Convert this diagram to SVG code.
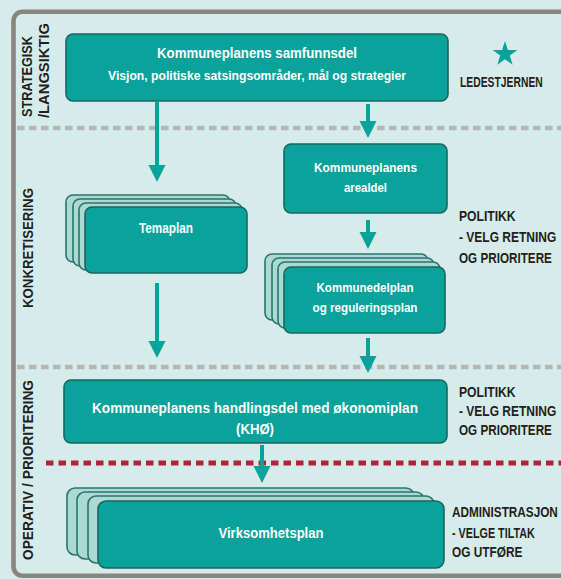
<svg xmlns="http://www.w3.org/2000/svg" width="561" height="579" viewBox="0 0 561 579">
<style>
.bg{fill:#d6ecea}
.frame{fill:none;stroke:#8c857f;stroke-width:4.6}
.gdash{stroke:#b5b6b5;stroke-width:4.6;stroke-dasharray:7.5 4.5;fill:none}
.rdash{stroke:#b1223b;stroke-width:4.8;stroke-dasharray:7.5 5;fill:none}
.box{fill:#09a39b;stroke:#1d655f;stroke-width:1.6}
.back{fill:#abd9d3;stroke:#2a746d;stroke-width:1.6}
.t{font-family:"Liberation Sans",Arial,sans-serif;fill:#ffffff;text-anchor:middle;font-weight:bold}
.lbl{font-family:"Liberation Sans",Arial,sans-serif;fill:#231f20;font-size:15px;font-weight:bold}
.side{font-family:"Liberation Sans",Arial,sans-serif;fill:#231f20;font-size:14.5px;font-weight:bold}
.ln{stroke:#09a39b;stroke-width:4;fill:none}
.ah{fill:#09a39b}
</style>
<rect class="bg" x="0" y="0" width="561" height="579"/>
<rect class="frame" x="13.5" y="11.7" width="600" height="564" rx="9"/>
<line class="gdash" x1="17" y1="128" x2="561" y2="128"/>
<line class="gdash" x1="17" y1="367" x2="561" y2="367"/>
<line class="rdash" x1="46" y1="463" x2="561" y2="463"/>

<g id="side-labels">
<text class="side" transform="translate(32,117) rotate(-90)" textLength="81" lengthAdjust="spacingAndGlyphs">STRATEGISK</text>
<text class="side" transform="translate(49,118) rotate(-90)" textLength="95" lengthAdjust="spacingAndGlyphs">/LANGSIKTIG</text>
<text class="side" transform="translate(33,308) rotate(-90)" textLength="120" lengthAdjust="spacingAndGlyphs">KONKRETISERING</text>
<text class="side" transform="translate(33,560) rotate(-90)" textLength="180" lengthAdjust="spacingAndGlyphs">OPERATIV / PRIORITERING</text>
</g>

<g id="connectors">
<line class="ln" x1="157" y1="102" x2="157" y2="167"/>
<polygon class="ah" points="148.5,165 165.5,165 157,182"/>
<line class="ln" x1="157" y1="283" x2="157" y2="343"/>
<polygon class="ah" points="148.5,341 165.5,341 157,358"/>
<line class="ln" x1="368" y1="104" x2="368" y2="123"/>
<polygon class="ah" points="359.5,121 376.5,121 368,138"/>
<line class="ln" x1="368" y1="220" x2="368" y2="234"/>
<polygon class="ah" points="359.5,232 376.5,232 368,249"/>
<line class="ln" x1="368" y1="338" x2="368" y2="358"/>
<polygon class="ah" points="359.5,356 376.5,356 368,373"/>
<line class="ln" x1="262" y1="445" x2="262" y2="468"/>
<polygon class="ah" points="253.5,466 270.5,466 262,483"/>
</g>

<g id="samfunnsdel">
<rect class="box" x="66" y="34" width="382" height="67" rx="7"/>
<text class="t" x="257" y="58" font-size="15" textLength="200" lengthAdjust="spacingAndGlyphs">Kommuneplanens samfunnsdel</text>
<text class="t" x="257" y="80" font-size="12.5" textLength="298" lengthAdjust="spacingAndGlyphs">Visjon, politiske satsingsområder, mål og strategier</text>
</g>

<g id="ledestjernen">
<polygon class="ah" points="505,41 507.9,49.9 517.4,50 509.8,55.6 512.6,64.7 505,59.2 497.4,64.7 500.2,55.6 492.6,50 502.1,49.9"/>
<text class="lbl" transform="translate(460,87) scale(0.69,1)">LEDESTJERNEN</text>
</g>

<g id="arealdel">
<rect class="box" x="284" y="144" width="163" height="69" rx="7"/>
<text class="t" x="365.5" y="172" font-size="13.5" textLength="103" lengthAdjust="spacingAndGlyphs">Kommuneplanens</text>
<text class="t" x="365.5" y="192" font-size="13.5" textLength="43" lengthAdjust="spacingAndGlyphs">arealdel</text>
</g>

<g id="temaplan">
<rect class="back" x="66" y="195" width="164" height="67" rx="7"/>
<rect class="back" x="73" y="199" width="163" height="67" rx="7"/>
<rect class="back" x="79" y="203" width="163" height="67" rx="7"/>
<rect class="box" x="85" y="207" width="162" height="66" rx="7"/>
<text class="t" x="166" y="233" font-size="14" textLength="54" lengthAdjust="spacingAndGlyphs">Temaplan</text>
</g>

<g id="kommunedelplan">
<rect class="back" x="265" y="254" width="163" height="66" rx="7"/>
<rect class="back" x="272" y="258" width="162" height="66" rx="7"/>
<rect class="back" x="278" y="262" width="162" height="66" rx="7"/>
<rect class="box" x="284" y="267" width="161" height="66" rx="7"/>
<text class="t" x="365" y="292" font-size="13.5" textLength="97" lengthAdjust="spacingAndGlyphs">Kommunedelplan</text>
<text class="t" x="365" y="312" font-size="13.5" textLength="105" lengthAdjust="spacingAndGlyphs">og reguleringsplan</text>
</g>

<g id="politikk1">
<text class="lbl" transform="translate(459,221) scale(0.81,1)">POLITIKK</text>
<text class="lbl" transform="translate(459,242) scale(0.8,1)">- VELG RETNING</text>
<text class="lbl" transform="translate(459,263) scale(0.78,1)">OG PRIORITERE</text>
</g>

<g id="khoe">
<rect class="box" x="64" y="380" width="383" height="63" rx="7"/>
<text class="t" x="255" y="413" font-size="15.5" textLength="326" lengthAdjust="spacingAndGlyphs">Kommuneplanens handlingsdel med økonomiplan</text>
<text class="t" x="255" y="434" font-size="14" textLength="38" lengthAdjust="spacingAndGlyphs">(KHØ)</text>
</g>

<g id="politikk2">
<text class="lbl" transform="translate(459,397) scale(0.81,1)">POLITIKK</text>
<text class="lbl" transform="translate(459,416) scale(0.8,1)">- VELG RETNING</text>
<text class="lbl" transform="translate(459,435) scale(0.78,1)">OG PRIORITERE</text>
</g>

<g id="virksomhetsplan">
<rect class="back" x="67" y="488" width="347" height="67" rx="8"/>
<rect class="back" x="77" y="492" width="347" height="67" rx="8"/>
<rect class="back" x="88" y="496" width="346" height="67" rx="8"/>
<rect class="box" x="98" y="501" width="346" height="67" rx="8"/>
<text class="t" x="271" y="538" font-size="15" textLength="105" lengthAdjust="spacingAndGlyphs">Virksomhetsplan</text>
</g>

<g id="administrasjon">
<text class="lbl" transform="translate(452,517) scale(0.785,1)">ADMINISTRASJON</text>
<text class="lbl" transform="translate(452,538) scale(0.72,1)">- VELGE TILTAK</text>
<text class="lbl" transform="translate(452,557) scale(0.79,1)">OG UTFØRE</text>
</g>
</svg>
